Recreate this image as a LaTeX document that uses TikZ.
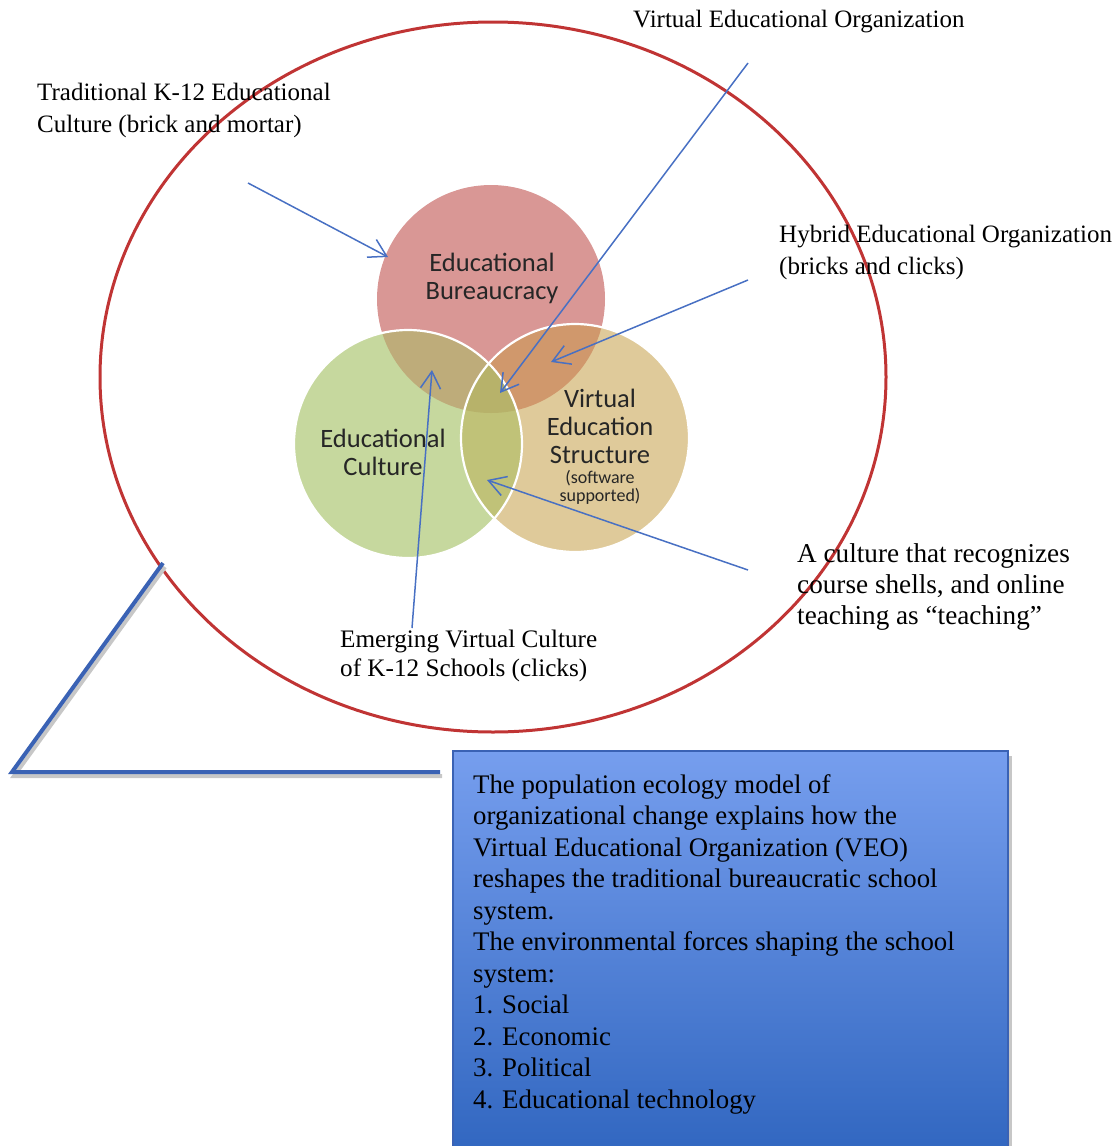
\documentclass[tikz,border=0pt]{standalone}
\usepackage{fontspec}
\setmainfont{Liberation Serif}
\newfontfamily\calib{Carlito}
\usetikzlibrary{arrows.meta}
\definecolor{ellred}{RGB}{192,52,52}
\definecolor{cred}{RGB}{217,151,149}
\definecolor{cgreen}{RGB}{198,216,158}
\definecolor{ctan}{RGB}{223,202,154}
\definecolor{crg}{RGB}{190,172,122}
\definecolor{crt}{RGB}{208,152,108}
\definecolor{cgt}{RGB}{192,194,120}
\definecolor{crgt}{RGB}{183,178,106}
\definecolor{arrblue}{RGB}{72,112,195}
\definecolor{boxtop}{RGB}{118,158,238}
\definecolor{boxbot}{RGB}{46,100,190}
\definecolor{boxedge}{RGB}{58,98,180}
\tikzset{
  lbl/.style={anchor=north west, inner sep=0pt, align=left, font=\fontsize{25}{32}\selectfont},
  ctext/.style={inner sep=0pt, align=center, font=\calib\fontsize{26.5}{28}\selectfont, text=black!85},
  arr/.style={arrblue, line width=1.5pt, -{Straight Barb[length=17pt,width=20pt,line width=1.5pt]}},
  ring/.style={circle, inner sep=0pt, minimum size=228pt},
}
\begin{document}
\begin{tikzpicture}[x=1pt,y=-1pt]
\useasboundingbox (0,0) rectangle (1118,1146);
% centres
\coordinate (rc) at (491,299);
\coordinate (gc) at (408,444);
\coordinate (tc) at (575,438);
% base circles
\node[ring, fill=cred] (bur) at (rc) {};
\node[ring, fill=cgreen] (cul) at (gc) {};
\node[ring, fill=ctan] (ves) at (tc) {};
% overlaps
\begin{scope}
  \clip (rc) circle (114pt);
  \fill[crg] (gc) circle (114pt);
  \fill[crt] (tc) circle (114pt);
\end{scope}
\begin{scope}
  \clip (gc) circle (114pt);
  \fill[cgt] (tc) circle (114pt);
  \clip (tc) circle (114pt);
  \fill[crgt] (rc) circle (114pt);
\end{scope}
% white outlines
\draw[white, line width=2.2pt] (gc) circle (114pt);
\draw[white, line width=2.2pt] (tc) circle (114pt);
% circle texts
\node[ctext] (burt) at (492,278) {Educational\\Bureaucracy};
\node[ctext] (cult) at (383,452) {Educational\\Culture};
\node[ctext] (vest) at (600,426) {Virtual\\Education\\Structure};
\node[inner sep=0pt, align=center, font=\calib\fontsize{18}{18}\selectfont, text=black!85] (soft) at (600,487) {(software\\supported)};
% big ellipse
\draw[ellred, line width=3pt] (493,377) ellipse [x radius=393pt, y radius=355pt];
% labels
\node[lbl] (trad) at (37,83) {Traditional K-12 Educational\\Culture (brick and mortar)};
\node[lbl] (veo) at (633,10) {Virtual Educational Organization};
\node[lbl] (hyb) at (779,225) {Hybrid Educational Organization\\(bricks and clicks)};
\node[lbl, font=\fontsize{27.2}{31}\selectfont] (rec) at (797,543) {A culture that recognizes\\course shells, and online\\teaching as “teaching”};
\node[lbl, font=\fontsize{25.2}{29}\selectfont] (emg) at (340,630) {Emerging Virtual Culture\\of K-12 Schools (clicks)};
% arrow endpoints
\coordinate (a1s) at (248,183); \coordinate (a1e) at (388,257);
\coordinate (a2s) at (748,63);  \coordinate (a2e) at (500,393);
\coordinate (a3s) at (748,280); \coordinate (a3e) at (551,362);
\coordinate (a4s) at (748,570); \coordinate (a4e) at (487,480);
\coordinate (a5s) at (412,628); \coordinate (a5e) at (432,370);
\draw[arr] (a1s) -- (a1e);
\draw[arr] (a2s) -- (a2e);
\draw[arr] (a3s) -- (a3e);
\draw[arr] (a4s) -- (a4e);
\draw[arr] (a5s) -- (a5e);
% callout
\coordinate (k1) at (163,563);
\coordinate (k2) at (12,772);
\coordinate (k3) at (440,772);
\draw[black!22, line width=4pt, line join=miter] ([shift={(2,4)}]k1) -- ([shift={(2,4)}]k2) -- ([shift={(2,4)}]k3);
\draw[boxedge, line width=4pt, line join=miter] (k1) -- (k2) -- (k3);
% box
\fill[black!22] (456,756) rectangle (1012,1170);
\node[draw=boxedge, line width=2pt, top color=boxtop, bottom color=boxbot, minimum width=555pt, minimum height=420pt, anchor=north west, inner sep=0pt] (box) at (452,750) {};
\node[lbl, font=\fontsize{26.8}{31.5}\selectfont] (boxt) at (473,774) {The population ecology model of\\organizational change explains how the\\Virtual Educational Organization (VEO)\\reshapes the traditional bureaucratic school\\system.\\The environmental forces shaping the school\\system:\\1. Social\\2. Economic\\3. Political\\4. Educational technology};
\end{tikzpicture}
\end{document}
